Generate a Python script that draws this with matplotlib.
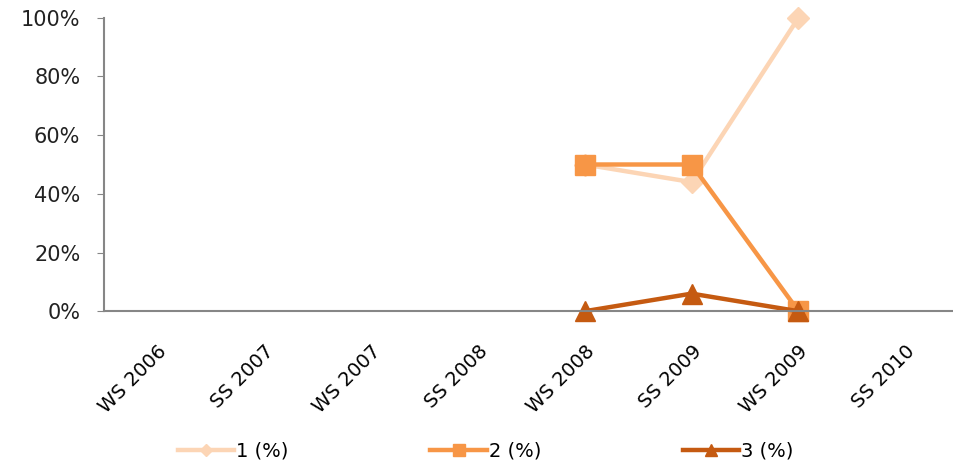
# Share of grades per semester (three series)

import matplotlib.pyplot as plt
import numpy as np

semesters = ['WS 2006', 'SS 2007', 'WS 2007', 'SS 2008', 'WS 2008', 'SS 2009', 'WS 2009', 'SS 2010']
series_1 = [np.nan, np.nan, np.nan, np.nan, 50, 44, 100, np.nan]
series_2 = [np.nan, np.nan, np.nan, np.nan, 50, 50, 0, np.nan]
series_3 = [np.nan, np.nan, np.nan, np.nan, 0, 6, 0, np.nan]
labels = ['1 (%)', '2 (%)', '3 (%)']

fig = plt.figure(figsize=(9.54, 4.68), dpi=100)
ax = fig.add_axes([0.109, 0.335, 0.896, 0.627])

x = np.arange(len(semesters))
ax.plot(x, series_1, marker='D', markersize=11, color='#FCD5B5', lw=3.2, label=labels[0], clip_on=False)
ax.plot(x, series_2, marker='s', markersize=14, color='#F79646', lw=3.2, label=labels[1], clip_on=False)
ax.plot(x, series_3, marker='^', markersize=14, color='#C55A11', lw=3.2, label=labels[2], clip_on=False)

ax.set_xlim(-0.5, len(semesters) - 0.5)
ax.set_ylim(0, 100)
ax.set_yticks(range(0, 101, 20))
ax.set_yticklabels([f'{v}%' for v in range(0, 101, 20)], fontsize=15, color='#222222')
ax.set_xticks(x)
ax.set_xticklabels(semesters, rotation=45, ha='right', rotation_mode='anchor', fontsize=14)
ax.tick_params(axis='x', length=0, pad=22)
ax.tick_params(axis='y', length=5, color='#868686', pad=12)

for side in ['top', 'right']:
    ax.spines[side].set_visible(False)
for side in ['left', 'bottom']:
    ax.spines[side].set_color('#868686')
    ax.spines[side].set_linewidth(1.5)

fig.legend(loc='lower left', bbox_to_anchor=(0.168, -0.022), ncol=3, frameon=False,
           handlelength=2.9, handletextpad=0.1, columnspacing=7.3, markerscale=0.6,
           prop={'size': 14})

fig.savefig('out.png', dpi=100)
